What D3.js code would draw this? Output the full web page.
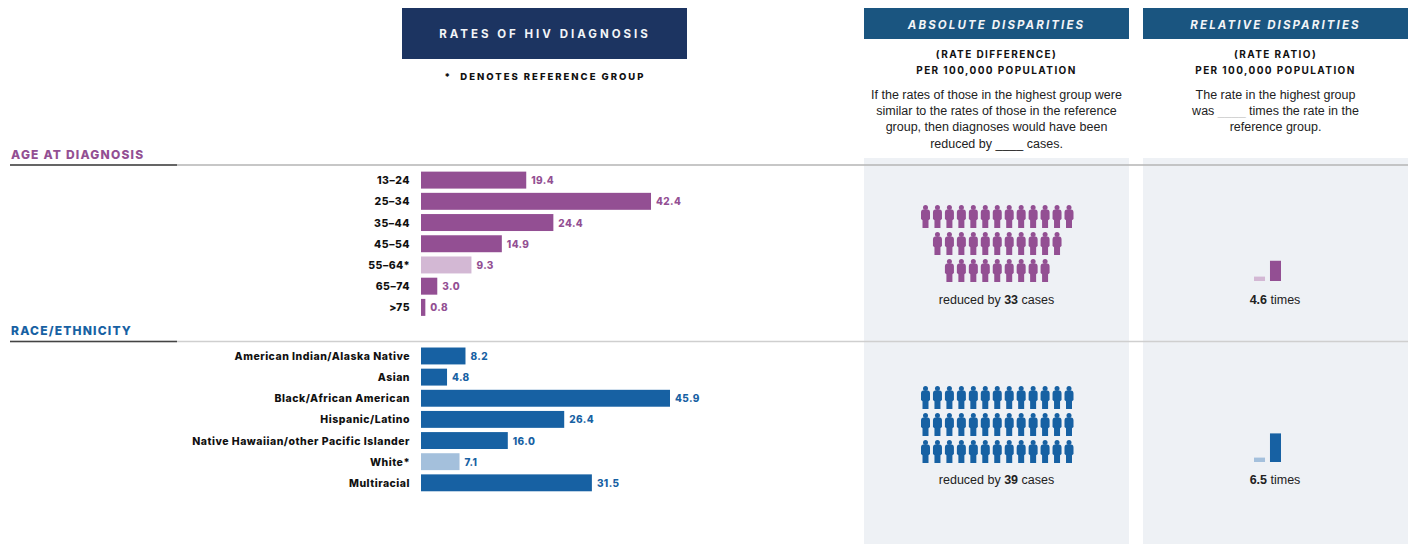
<!DOCTYPE html>
<html>
<head>
<meta charset="utf-8">
<script src="https://cdn.jsdelivr.net/npm/d3@7"></script>
<style>
body { margin: 0; background: #fff; }
text { font-family: Inter, sans-serif; }
.rowLabel text { font-size: 10.5px; font-weight: 800; fill: #111; letter-spacing: .5px; }
.body { font-family: "Liberation Sans", sans-serif; font-size: 12.5px; fill: #222; text-anchor: middle; }
.sub { font-size: 10px; font-weight: 700; fill: #111; text-anchor: middle; letter-spacing: 1.4px; }
.val { font-size: 10px; font-weight: 800; letter-spacing: .4px; }
.sec { font-size: 12px; font-weight: 800; letter-spacing: 1.2px; }
.cap { font-family: "Liberation Sans", sans-serif; font-size: 12.5px; fill: #222; text-anchor: middle; }
</style>
</head>
<body>
<div id="chart"></div>
<script>
const ageGroups = ['13–24', '25–34', '35–44', '45–54', '55–64*', '65–74', '>75'];
const ageRates = [19.4, 42.4, 24.4, 14.9, 9.3, 3.0, 0.8];
const raceGroups = ['American Indian/Alaska Native', 'Asian', 'Black/African American', 'Hispanic/Latino', 'Native Hawaiian/other Pacific Islander', 'White*', 'Multiracial'];
const raceRates = [8.2, 4.8, 45.9, 26.4, 16.0, 7.1, 31.5];
const ageCaseRows = [13, 11, 9];
const raceCaseRows = [13, 13, 13];
const ageCases = 33;
const raceCases = 39;
const ageRatio = 4.6;
const raceRatio = 6.5;

const width = 1411, height = 544;
const purple = '#934f93', lightPurple = '#d3b8d4';
const blue = '#1761a3', lightBlue = '#a4c0dc';

const svg = d3.select('#chart').append('svg')
	.attr('width', width)
	.attr('height', height)
	.style('display', 'block');

//grey panels behind the disparities columns
const panelX = d3.scalePoint().domain(['absolute', 'relative']).range([864, 1143]);
const panelW = 265;

svg.selectAll('rect.panel')
	.data(panelX.domain())
	.join('rect')
	.attr('class', 'panel')
	.attr('x', d => panelX(d))
	.attr('y', 158)
	.attr('width', panelW)
	.attr('height', height - 158)
	.attr('fill', '#eef1f5');

//headers
svg.append('rect').attr('x', 402).attr('y', 8).attr('width', 285).attr('height', 51).attr('fill', '#1c3461');
svg.append('text').attr('x', 545).attr('y', 38).attr('text-anchor', 'middle')
	.attr('fill', '#f2f4f7').style('font-size', '11.5px').style('font-weight', 700).style('letter-spacing', '3px')
	.text('RATES OF HIV DIAGNOSIS');
svg.append('text').attr('class', 'sub').attr('x', 545).attr('y', 80)
	.style('letter-spacing', '2px').style('font-weight', 800).style('font-size', '9.5px')
	.style('white-space', 'pre')
	.text('*  DENOTES REFERENCE GROUP');

const headerTitles = {absolute: 'ABSOLUTE DISPARITIES', relative: 'RELATIVE DISPARITIES'};
const introLines = {
	absolute: ['(RATE DIFFERENCE)', 'PER 100,000 POPULATION'],
	relative: ['(RATE RATIO)', 'PER 100,000 POPULATION']
};
const bodyLines = {
	absolute: ['If the rates of those in the highest group were', 'similar to the rates of those in the reference', 'group, then diagnoses would have been', 'reduced by ____ cases.'],
	relative: ['The rate in the highest group', 'was ____ times the rate in the', 'reference group.']
};
const blankColor = {absolute: '#222', relative: '#cfcfcf'};

panelX.domain().forEach(key => {
	const cx = panelX(key) + panelW / 2;
	svg.append('rect').attr('x', panelX(key)).attr('y', 8).attr('width', panelW).attr('height', 31).attr('fill', '#1a5580');
	svg.append('text').attr('x', cx).attr('y', 28.5).attr('text-anchor', 'middle')
		.attr('fill', '#f2f4f7').style('font-size', '11.5px').style('font-weight', 700)
		.style('font-style', 'italic').style('letter-spacing', '2.1px')
		.text(headerTitles[key]);
	introLines[key].forEach((line, i) => {
		svg.append('text').attr('class', 'sub').attr('x', cx).attr('y', 58 + i * 16).text(line);
	});
	bodyLines[key].forEach((line, i) => {
		const t = svg.append('text').attr('class', 'body').attr('x', cx).attr('y', 99 + i * 16.2);
		line.split('____').forEach((part, j) => {
			if (j > 0) t.append('tspan').attr('fill', blankColor[key]).text('____');
			t.append('tspan').text(part);
		});
	});
});

//one section per grouping: rule, title, bars, people, ratio bars
const x = d3.scaleLinear().domain([0, 45.9]).range([421, 670]);
const ratioH = d3.scaleLinear().domain([0, 1]).range([0, 4.4]);

function person(g) {
	g.append('circle').attr('cx', 0).attr('cy', 2.5).attr('r', 2.5);
	g.append('path').attr('d', 'M-2 4.6H2Q4.5 4.6 4.5 7.5V14L3 15.2V23H-3V15.2L-4.5 14V7.5Q-4.5 4.6 -2 4.6Z');
}

function buildSection(o) {
	const y = d3.scaleBand().domain(o.groups).range(o.range).paddingInner(0.2).paddingOuter(0.1);

	svg.append('line').attr('x1', 10).attr('x2', 1408).attr('y1', o.ruleY).attr('y2', o.ruleY)
		.attr('stroke', o.ruleColor).attr('stroke-width', 1.3);
	svg.append('line').attr('x1', 10).attr('x2', 177).attr('y1', o.ruleY).attr('y2', o.ruleY)
		.attr('stroke', '#444').attr('stroke-width', 1.3);
	svg.append('text').attr('class', 'sec').attr('x', 11).attr('y', o.ruleY - 6.5).attr('fill', o.color).text(o.title);

	const axis = svg.append('g').attr('class', 'rowLabel')
		.attr('transform', 'translate(421,0.7)')
		.call(d3.axisLeft(y).tickSize(0).tickPadding(11));
	axis.select('.domain').remove();

	svg.selectAll('rect.bar' + o.id)
		.data(o.rates)
		.join('rect')
		.attr('class', 'bar' + o.id)
		.attr('x', x(0))
		.attr('y', (d, i) => y(o.groups[i]))
		.attr('width', d => x(d) - x(0))
		.attr('height', y.bandwidth())
		.attr('fill', (d, i) => o.groups[i].endsWith('*') ? o.light : o.color);

	svg.selectAll('text.val' + o.id)
		.data(o.rates)
		.join('text')
		.attr('class', 'val val' + o.id)
		.attr('x', d => x(d) + 5)
		.attr('y', (d, i) => y(o.groups[i]) + y.bandwidth() / 2 + 0.5)
		.attr('dy', '.35em')
		.attr('fill', o.color)
		.text(d => d.toFixed(1));

	//people pictogram, rows centred in the panel
	const cols = d3.scaleLinear().domain([0, 12]).range([925.5, 1069]);
	const mid = 6;
	o.caseRows.forEach((n, r) => {
		const row = svg.append('g').attr('fill', o.color);
		d3.range(n).forEach(i => {
			const g = row.append('g')
				.attr('transform', `translate(${cols(mid + i - (n - 1) / 2)},${o.peopleY + r * 27})`);
			person(g);
		});
	});

	const capCx = panelX('absolute') + panelW / 2;
	const cap = svg.append('text').attr('class', 'cap').attr('x', capCx).attr('y', o.capY);
	cap.append('tspan').text('reduced by ');
	cap.append('tspan').style('font-weight', 700).text(o.cases);
	cap.append('tspan').text(' cases');

	//small ratio bars
	const ratioX = d3.scaleBand().domain(['ref', 'high']).range([1254, 1281]).paddingInner(0.31);
	const ratioData = [{k: 'ref', v: 1, c: o.light}, {k: 'high', v: o.ratio, c: o.color}];
	svg.selectAll('rect.ratio' + o.id)
		.data(ratioData)
		.join('rect')
		.attr('class', 'ratio' + o.id)
		.attr('x', d => ratioX(d.k))
		.attr('y', d => o.ratioBase - ratioH(d.v))
		.attr('width', ratioX.bandwidth())
		.attr('height', d => ratioH(d.v))
		.attr('fill', d => d.c);

	const rat = svg.append('text').attr('class', 'cap').attr('x', panelX('relative') + panelW / 2 - 0.5).attr('y', o.capY);
	rat.append('tspan').style('font-weight', 700).text(o.ratio.toFixed(1));
	rat.append('tspan').text(' times');
}

buildSection({
	id: 'Age', title: 'AGE AT DIAGNOSIS', groups: ageGroups, rates: ageRates, caseRows: ageCaseRows, cases: ageCases, ratio: ageRatio,
	color: purple, light: lightPurple, range: [169.5, 318], ruleY: 165, ruleColor: '#b4b4b4', peopleY: 205, capY: 304, ratioBase: 281
});
buildSection({
	id: 'Race', title: 'RACE/ETHNICITY', groups: raceGroups, rates: raceRates, caseRows: raceCaseRows, cases: raceCases, ratio: raceRatio,
	color: blue, light: lightBlue, range: [345.4, 493.4], ruleY: 341.5, ruleColor: '#cfcfcf', peopleY: 386, capY: 484, ratioBase: 462
});
</script>
</body>
</html>
